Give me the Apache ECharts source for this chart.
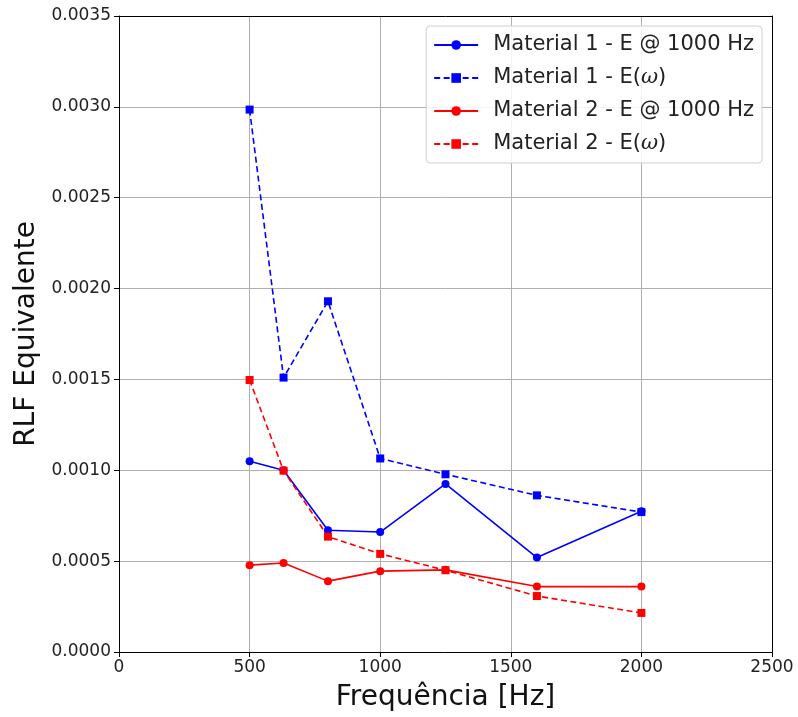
<!DOCTYPE html>
<html><head><meta charset="utf-8">
<script src="https://cdn.jsdelivr.net/npm/echarts@6/dist/echarts.min.js"></script>
<style>html,body{margin:0;padding:0;background:#fff}#c{width:798px;height:717px}</style>
</head><body><div id="c"></div>
<script>
const freqs = [500, 630, 800, 1000, 1250, 1600, 2000];
const m1E1000 = [0.001050, 0.001000, 0.000670, 0.000660, 0.000925, 0.000520, 0.000775];
const m1Ew    = [0.002985, 0.001510, 0.001930, 0.001065, 0.000978, 0.000862, 0.000770];
const m2E1000 = [0.000478, 0.000490, 0.000390, 0.000445, 0.000452, 0.000360, 0.000360];
const m2Ew    = [0.001497, 0.000998, 0.000635, 0.000540, 0.000450, 0.000308, 0.000215];
const seriesNames = ['Material 1 - E @ 1000 Hz', 'Material 1 - E(ω)', 'Material 2 - E @ 1000 Hz', 'Material 2 - E(ω)'];
const xTicks = [0, 500, 1000, 1500, 2000, 2500];

function pairs(ys){ return freqs.map((f,i)=>[f, ys[i]]); }
function mk(name, ys, color, dashed){
  return {
    name, type:'line', data: pairs(ys), xAxisIndex:0, yAxisIndex:0,
    symbol: dashed ? 'rect' : 'circle', symbolSize: 8,
    showSymbol:true,
    lineStyle:{color, width:1.6, type: dashed ? [6,3.5] : 'solid'},
    itemStyle:{color},
    emphasis:{disabled:true}, animation:false
  };
}
const chart = echarts.init(document.getElementById('c'), null, {renderer:'canvas'});
const font = 'DejaVu Sans';
chart.setOption({
  animation:false,
  textStyle:{fontFamily:font},
  grid:{left:119, right:26, top:16, bottom:57, containLabel:false},
  legend:{
    orient:'vertical', right:36, top:26,
    backgroundColor:'rgba(255,255,255,0.85)', borderColor:'#d0d0d0', borderWidth:1, borderRadius:4,
    padding:[8,8,8,7], itemGap:11, itemWidth:44, itemHeight:12,
    textStyle:{fontFamily:font, fontSize:21, color:'#222', padding:[0,0,0,10], lineHeight:22,
      rich:{w:{fontFamily:'DejaVu Serif', fontStyle:'italic', fontSize:21, color:'#222'}}},
    formatter: n => n.replace('ω','{w|ω}'),
    data: seriesNames
  },
  xAxis:[{
    type:'value', min:0, max:2500, interval:500,
    name:'Frequência [Hz]', nameLocation:'middle', nameGap:32,
    nameTextStyle:{fontFamily:font, fontSize:28, color:'#111'},
    axisLine:{show:true, lineStyle:{color:'#000', width:1}},
    axisTick:{show:true, length:5, lineStyle:{color:'#000'}},
    axisLabel:{fontFamily:font, fontSize:17, color:'#222', margin:7, formatter: v => String(v)},
    splitLine:{show:true, lineStyle:{color:'#b0b0b0', width:1}}
  },{
    type:'value', min:0, max:2500, position:'top',
    axisLine:{show:true, onZero:false, lineStyle:{color:'#000'}},
    axisTick:{show:false}, axisLabel:{show:false}, splitLine:{show:false}
  }],
  yAxis:[{
    type:'value', min:0, max:0.0035, interval:0.0005,
    name:'RLF Equivalente', nameLocation:'middle', nameGap:70, nameRotate:90,
    nameTextStyle:{fontFamily:font, fontSize:28, color:'#111'},
    axisLine:{show:true, lineStyle:{color:'#000', width:1}},
    axisTick:{show:true, length:5, lineStyle:{color:'#000'}},
    axisLabel:{fontFamily:font, fontSize:17, color:'#222', margin:8, formatter: v => v.toFixed(4)},
    splitLine:{show:true, lineStyle:{color:'#b0b0b0', width:1}}
  },{
    type:'value', min:0, max:0.0035, position:'right',
    axisLine:{show:true, onZero:false, lineStyle:{color:'#000'}},
    axisTick:{show:false}, axisLabel:{show:false}, splitLine:{show:false}
  }],
  series:[
    mk(seriesNames[0], m1E1000, '#0000ff', false),
    mk(seriesNames[1], m1Ew, '#0000ff', true),
    mk(seriesNames[2], m2E1000, '#ff0000', false),
    mk(seriesNames[3], m2Ew, '#ff0000', true)
  ]
});
</script></body></html>
